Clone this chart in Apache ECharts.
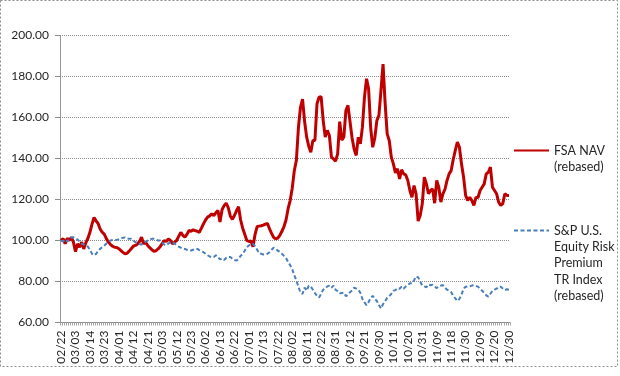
<!DOCTYPE html>
<html>
<head>
<meta charset="utf-8">
<script src="https://cdn.jsdelivr.net/npm/echarts@6/dist/echarts.min.js"></script>
<style>
  html, body { margin: 0; padding: 0; background: #fff; }
  #chart-container { width: 620px; height: 376px; }
</style>
</head>
<body>
<div id="chart-container"></div>
<script>
var dom = document.getElementById("chart-container");
var myChart = echarts.init(dom, null, { renderer: "canvas" });

// trading days shown on the category axis (US market calendar, 2011)
const firstDay = "2011-02-22";
const lastDay = "2011-12-30";
const holidays = ["2011-04-22", "2011-05-30", "2011-07-04", "2011-09-05", "2011-11-24", "2011-12-26"];

const seriesNames = ["FSA NAV (rebased)", "S&P U.S. Equity Risk Premium TR Index (rebased)"];
const legendLines = [
  ["FSA NAV", "(rebased)"],
  ["S&P U.S.", "Equity Risk", "Premium", "TR Index", "(rebased)"],
];

// values, one per trading day
const fsaNav = [
  100, 101, 98.4, 101.1, 100, 101.6, 99.2, 94.6, 98.4, 96.7,
  99.2, 95.9, 98.9, 101, 104, 108, 111.2, 109.5, 108.2, 105.5,
  104, 103, 100.8, 99.2, 98, 97.2, 96.7, 96.6, 96, 95.1,
  94.2, 93.5, 93.8, 94.8, 96, 97.2, 97.6, 98.2, 99.5, 101.6,
  98.4, 99, 97.6, 96.5, 95.5, 94.8, 95, 95.9, 97, 98.5,
  100, 99.5, 100.8, 100, 98.4, 99.2, 100, 102, 104, 102.5,
  101.6, 103, 104.9, 104.5, 105.2, 104.8, 104.5, 104, 106, 108.1,
  110, 111.4, 112, 113, 112.2, 113.5, 114.6, 109, 115, 117,
  118.2, 116, 112, 110.3, 112.2, 114.5, 116.5, 110, 106, 103,
  100, 99.5, 99.8, 97, 103, 106.8, 107, 107.2, 107.5, 108,
  108.3, 105.7, 103.5, 101.5, 100.8, 101.2, 102.5, 104.5, 106.8, 110,
  115.5, 119.5, 125.5, 134, 139, 155, 165, 169, 158, 150.4,
  146, 143.1, 148.8, 148.8, 166.7, 169.9, 170.2, 158.5, 150.4, 153.7,
  151.2, 140.7, 139.8, 138.7, 142.3, 158, 149, 150.4, 163.4, 165.9,
  158, 150, 144.5, 141.5, 150.4, 147.2, 155.3, 169.9, 178.9, 174,
  155, 145.5, 150, 158.5, 161, 173.2, 186, 167, 152, 148.8,
  140.7, 137.4, 133, 135, 130, 134.5, 132.5, 132, 129.3, 124.4,
  121.1, 126.8, 122.8, 109.5, 112.2, 117.9, 130.9, 127.6, 122.8, 124.4,
  125.2, 118.2, 129.3, 126, 118.7, 122.8, 125, 129.3, 132.5, 134.1,
  139.5, 144, 148, 145.5, 137.4, 131, 122, 119.5, 121.1, 119.5,
  117.1, 121, 121, 124.4, 126, 127.6, 132.5, 133.3, 135.8, 126,
  124.4, 122.8, 118.7, 117.1, 118, 122.8, 122, 122,
];

const spEquityRisk = [
  100, 99.5, 100.5, 99.5, 100.8, 101.5, 101.6, 101.2, 100.5, 99.5,
  98.5, 98, 97.8, 97, 95.5, 93.5, 92.8, 93.5, 95, 96,
  96.8, 97.6, 98.5, 99.3, 100, 100.3, 100.2, 100.3, 100.6, 101,
  101.3, 101.5, 101, 100.8, 100.8, 100, 99.2, 98.8, 98.3, 98,
  98.8, 99.5, 100, 100.5, 100.8, 100.8, 100.5, 100, 100, 99,
  98, 97.6, 98.5, 99.2, 99.2, 98.5, 97.6, 97, 96.5, 96,
  95.9, 95.5, 95.2, 95.1, 95.5, 95.9, 95.9, 95.3, 94.8, 94.3,
  93.5, 92.8, 92.2, 91.9, 91.9, 92.8, 92, 90.8, 91.2, 90.5,
  91.5, 92, 92, 91, 90.5, 90.2, 91, 92.5, 93.5, 95,
  96.7, 97.6, 98.4, 98.4, 97.2, 95.5, 93.8, 93.5, 93.2, 93.2,
  93.5, 94.3, 95.5, 96.5, 96, 95, 94.5, 93.5, 92.5, 91.5,
  89.5, 88, 86, 83, 80.5, 77.5, 74.5, 74, 77, 75.5,
  78, 77.5, 76, 74.4, 73, 72.2, 74, 76, 76.5, 77.6,
  78, 77, 78, 76, 75.2, 74.2, 74.4, 74.5, 72.8, 73.5,
  74.8, 75.6, 77, 76.5, 76, 74.5, 71.5, 69.8, 68.5, 70,
  72, 73, 71.5, 70.5, 68.5, 66.8, 69, 70.4, 72, 72.8,
  74, 75.5, 75.8, 76.8, 76.5, 77.5, 76.5, 77.6, 78.2, 79.2,
  79, 80.5, 82.5, 82, 80, 78, 77.6, 77.2, 78.5, 78.2,
  78.4, 77.5, 76.8, 77.6, 78, 78.2, 77, 76, 75.5, 74.8,
  73, 71.8, 70.5, 71.5, 73.5, 76.5, 77.4, 77.6, 77.6, 78,
  78.2, 77.8, 77.5, 76.5, 75.5, 74.5, 73.2, 72.6, 74, 75.5,
  76, 76.5, 77.4, 77.5, 76.6, 75.8, 76.2, 76,
];

const categories = [];
for (let d = new Date(firstDay + "T00:00:00Z"); d <= new Date(lastDay + "T00:00:00Z"); d.setUTCDate(d.getUTCDate() + 1)) {
  const iso = d.toISOString().slice(0, 10);
  const wd = d.getUTCDay();
  if (wd === 0 || wd === 6 || holidays.includes(iso)) continue;
  categories.push(iso.slice(5, 7) + "/" + iso.slice(8, 10));
}

const font = "Lato";
const textColor = "#262626";
const gridColor = "#8c8c8c";
const lineHeight = 16.4;

// legend text is centred on its icon, so blank lines on top put the
// first line of text level with the line sample, as in the original
function legendFor(idx, iconY) {
  const lines = legendLines[idx];
  const pad = new Array(lines.length - 1).fill("");
  const nLines = pad.length + lines.length;
  return {
    show: true,
    data: [seriesNames[idx]],
    left: 513,
    top: iconY - (nLines * lineHeight) / 2,
    padding: 0,
    itemWidth: 35,
    itemHeight: 10,
    itemGap: 0,
    selectedMode: false,
    itemStyle: { opacity: 0 },
    formatter: () => pad.concat(lines).join("\n"),
    textStyle: {
      fontFamily: font,
      fontSize: 12.5,
      color: textColor,
      lineHeight: lineHeight,
    },
  };
}

var option = {
  animation: false,
  backgroundColor: "#fff",
  grid: { left: 60, right: 110, top: 35.5, bottom: 53.5 },
  legend: [legendFor(0, 150.5), legendFor(1, 230.5)],
  xAxis: {
    type: "category",
    data: categories,
    boundaryGap: true,
    axisLine: { show: true, lineStyle: { color: gridColor, width: 1 } },
    axisTick: { show: true, interval: 0, length: 3, lineStyle: { color: "#a6a6a6" } },
    axisLabel: {
      interval: 6,
      rotate: 90,
      margin: 8,
      fontFamily: font,
      fontSize: 12,
      color: textColor,
    },
    splitLine: { show: false },
  },
  yAxis: {
    type: "value",
    min: 60,
    max: 200,
    interval: 20,
    axisLine: { show: true, lineStyle: { color: gridColor, type: [1, 1] } },
    axisTick: { show: true, length: 5, lineStyle: { color: gridColor } },
    axisLabel: {
      formatter: (v) => v.toFixed(2),
      margin: 11,
      fontFamily: font,
      fontSize: 12,
      color: textColor,
    },
    splitLine: { show: true, lineStyle: { color: gridColor, width: 1, type: [1, 1] } },
  },
  graphic: [
    {
      type: "rect",
      silent: true,
      shape: { x: 0.5, y: 0.5, width: 617, height: 366 },
      style: { fill: null, stroke: "#8c8c8c", lineWidth: 1, lineDash: [2, 2] },
    },
  ],
  series: [
    {
      name: seriesNames[0],
      type: "line",
      data: fsaNav,
      symbol: "none",
      showSymbol: false,
      itemStyle: { color: "#c00000" },
      lineStyle: { color: "#c00000", width: 3 },
      z: 2,
    },
    {
      name: seriesNames[1],
      type: "line",
      data: spEquityRisk,
      symbol: "none",
      showSymbol: false,
      itemStyle: { color: "#4a7ebb" },
      lineStyle: { color: "#4a7ebb", width: 2, type: [4, 2.5] },
      z: 3,
    },
  ],
};

if (option && typeof option === "object") {
  myChart.setOption(option);
}

window.addEventListener("resize", myChart.resize);
</script>
</body>
</html>
